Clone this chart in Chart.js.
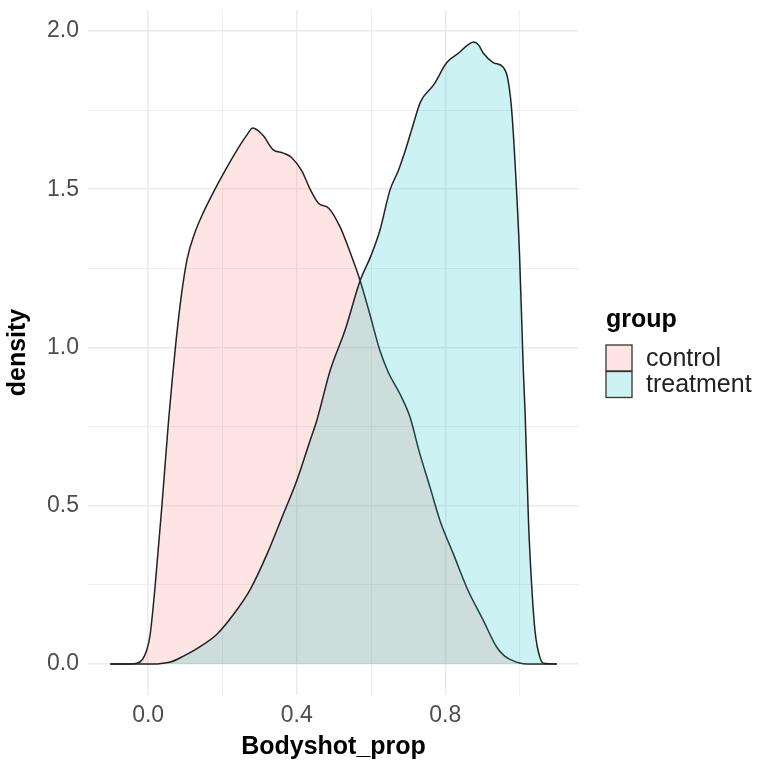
<!DOCTYPE html>
<html>
<head>
<meta charset="utf-8">
<script src="https://cdn.jsdelivr.net/npm/chart.js@4.4.1/dist/chart.umd.min.js"></script>
<style>
  html, body { margin: 0; padding: 0; background: #fff; }
</style>
</head>
<body>
<canvas id="densityGraph" width="761" height="763"></canvas>
<script>
// density estimates
const groups = ['control', 'treatment'];

const controlX = [-0.102, -0.05, -0.03, -0.015, -0.005, 0.005, 0.019, 0.037, 0.055, 0.065, 0.075, 0.09, 0.105, 0.125, 0.15, 0.18,
    0.21, 0.24, 0.265, 0.282, 0.309, 0.336, 0.364, 0.386, 0.414, 0.436, 0.459, 0.486, 0.517, 0.544, 0.571, 0.598,
    0.624, 0.647, 0.678, 0.705, 0.73, 0.759, 0.786, 0.822, 0.858, 0.903, 0.939, 0.96, 0.983, 1.0, 1.02, 1.10];
const controlY = [0, 0, 0.002, 0.015, 0.04, 0.09, 0.25, 0.50, 0.77, 0.90, 1.02, 1.17, 1.28, 1.36, 1.43, 1.50,
    1.565, 1.625, 1.67, 1.693, 1.67, 1.625, 1.614, 1.60, 1.557, 1.50, 1.455, 1.44, 1.38, 1.30, 1.21, 1.10,
    0.99, 0.92, 0.853, 0.78, 0.67, 0.558, 0.452, 0.347, 0.241, 0.136, 0.052, 0.025, 0.01, 0.003, 0, 0];

const treatmentX = [-0.102, 0.0, 0.03, 0.06, 0.095, 0.14, 0.185, 0.23, 0.275, 0.32, 0.364, 0.40, 0.436, 0.454, 0.49,
    0.53, 0.571, 0.60, 0.624, 0.651, 0.674, 0.689, 0.71, 0.733, 0.769, 0.804, 0.836, 0.86, 0.876, 0.89,
    0.902, 0.929, 0.956, 0.968, 0.978, 0.988, 1.0, 1.01, 1.015, 1.024, 1.033, 1.042, 1.055, 1.065, 1.10];
const treatmentY = [0, 0, 0.001, 0.006, 0.025, 0.055, 0.094, 0.157, 0.236, 0.347, 0.474, 0.579, 0.706, 0.769, 0.927,
    1.054, 1.212, 1.29, 1.37, 1.497, 1.56, 1.61, 1.69, 1.775, 1.83, 1.90, 1.93, 1.955, 1.965, 1.955,
    1.93, 1.90, 1.885, 1.85, 1.76, 1.58, 1.29, 0.93, 0.79, 0.45, 0.24, 0.10, 0.02, 0.002, 0];

const xTicks = [0, 0.2, 0.4, 0.6, 0.8, 1.0];
const xLabels = [0, 0.4, 0.8];
const yTicks = [0, 0.25, 0.5, 0.75, 1.0, 1.25, 1.5, 1.75, 2.0];
const yLabels = [0, 0.5, 1.0, 1.5, 2.0];

const toPoints = (xs, ys) => xs.map((x, i) => ({ x: x, y: ys[i] }));
const isLabel = (list, v) => list.some(l => Math.abs(l - v) < 1e-9);

const gridColor = '#ebebeb';
const font = '"Liberation Sans", Arial, sans-serif';

// ggplot-style legend on the right
const groupLegend = {
    id: 'groupLegend',
    afterDraw(chart) {
        const ctx = chart.ctx;
        const left = chart.chartArea.right + 27;
        ctx.save();
        ctx.textBaseline = 'middle';
        ctx.fillStyle = '#000';
        ctx.font = 'bold 25px ' + font;
        ctx.fillText('group', left, 320);
        chart.data.datasets.forEach((ds, i) => {
            const top = 345 + i * 26.5;
            ctx.fillStyle = '#fff';
            ctx.fillRect(left, top, 26, 26);
            ctx.fillStyle = ds.backgroundColor;
            ctx.fillRect(left, top, 26, 26);
            ctx.strokeStyle = '#333';
            ctx.lineWidth = 1.3;
            ctx.strokeRect(left, top, 26, 26);
            ctx.fillStyle = '#222';
            ctx.font = '25px ' + font;
            ctx.fillText(ds.label, left + 40, top + 14);
        });
        ctx.restore();
    }
};

// keep the panel edges where ggplot puts them
const noEdgePadding = axis => {
    axis.paddingTop = 0;
    axis.paddingBottom = 0;
    axis.paddingLeft = 0;
    axis.paddingRight = 0;
};

const densityCtx = document.getElementById('densityGraph').getContext('2d');
const densityGraph = new Chart(densityCtx, {
    type: 'line',
    data: {
        datasets: [{
            label: groups[0],
            data: toPoints(controlX, controlY),
            borderColor: '#222',
            backgroundColor: 'rgba(248, 118, 109, 0.2)',
            fill: 'origin',
            borderWidth: 1.5,
            pointRadius: 0,
            cubicInterpolationMode: 'monotone',
            order: 1
        }, {
            label: groups[1],
            data: toPoints(treatmentX, treatmentY),
            borderColor: '#222',
            backgroundColor: 'rgba(0, 191, 196, 0.2)',
            fill: 'origin',
            borderWidth: 1.5,
            pointRadius: 0,
            cubicInterpolationMode: 'monotone',
            order: 0
        }]
    },
    options: {
        responsive: false,
        animation: false,
        layout: { padding: { top: 10, right: 182, bottom: 0, left: 0 } },
        plugins: {
            legend: { display: false },
            tooltip: { enabled: false }
        },
        scales: {
            x: {
                type: 'linear',
                min: -0.162,
                max: 1.16,
                afterBuildTicks: axis => { axis.ticks = xTicks.map(v => ({ value: v })); },
                afterFit: axis => { axis.height = 68; noEdgePadding(axis); },
                border: { display: false },
                grid: {
                    drawTicks: false,
                    color: gridColor,
                    lineWidth: c => isLabel(xLabels, c.tick.value) ? 1.5 : 0.8
                },
                ticks: {
                    padding: 7,
                    color: '#4d4d4d',
                    font: { family: font, size: 23 },
                    maxRotation: 0,
                    autoSkip: false,
                    callback: v => isLabel(xLabels, v) ? v.toFixed(1) : ''
                },
                title: {
                    display: true,
                    text: 'Bodyshot_prop',
                    color: '#000',
                    font: { family: font, size: 25, weight: 'bold' },
                    padding: { top: 0, bottom: 1 }
                }
            },
            y: {
                type: 'linear',
                min: -0.098,
                max: 2.066,
                afterBuildTicks: axis => { axis.ticks = yTicks.map(v => ({ value: v })); },
                afterFit: axis => { axis.width = 88; noEdgePadding(axis); },
                border: { display: false },
                grid: {
                    drawTicks: false,
                    color: gridColor,
                    lineWidth: c => isLabel(yLabels, c.tick.value) ? 1.5 : 0.8
                },
                ticks: {
                    padding: 9,
                    color: '#4d4d4d',
                    font: { family: font, size: 23 },
                    autoSkip: false,
                    callback: v => isLabel(yLabels, v) ? v.toFixed(1) : ''
                },
                title: {
                    display: true,
                    text: 'density',
                    color: '#000',
                    font: { family: font, size: 25, weight: 'bold' },
                    padding: { top: 3, bottom: 0 }
                }
            }
        }
    },
    plugins: [groupLegend]
});
</script>
</body>
</html>
